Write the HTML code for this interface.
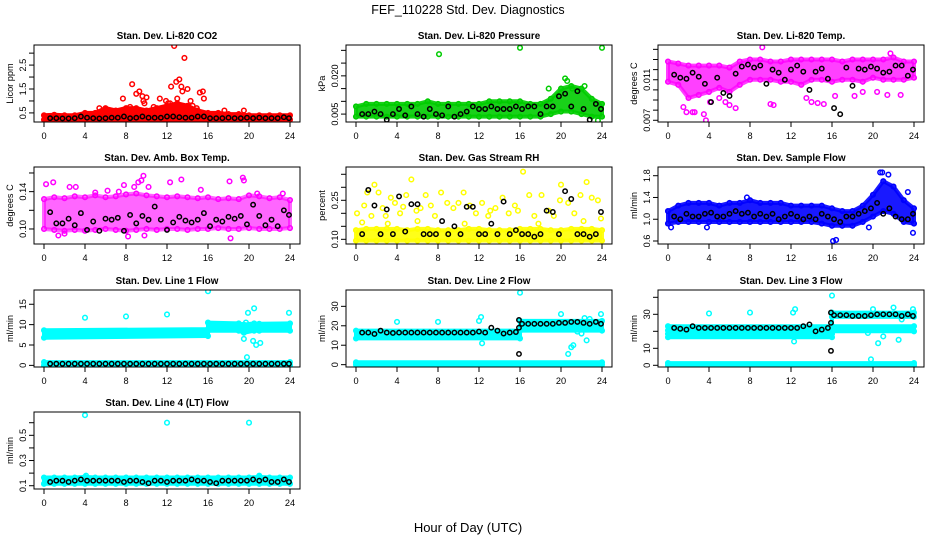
<!DOCTYPE html>
<html><head><meta charset="utf-8"><style>
html,body{margin:0;padding:0;background:#fff;}
svg{display:block;font-family:"Liberation Sans",sans-serif;}
</style></head><body>
<svg id="chart" width="936" height="540" viewBox="0 0 936 540" xmlns="http://www.w3.org/2000/svg">
<rect width="936" height="540" fill="#fff"/>
<text x="468" y="14" text-anchor="middle" font-size="12.5">FEF_110228  Std. Dev. Diagnostics</text>
<text x="468" y="532" text-anchor="middle" font-size="13">Hour of Day (UTC)</text>
</svg>
<script>
const xTicks = [0,4,8,12,16,20,24];
const blackHours = [0.6,1.2,1.8,2.4,3.0,3.6,4.2,4.8,5.4,6.0,6.6,7.2,7.8,8.4,9.0,9.6,10.2,10.8,11.4,12.0,12.6,13.2,13.8,14.4,15.0,15.6,16.2,16.8,17.4,18.0,18.6,19.2,19.8,20.4,21.0,21.6,22.2,22.8,23.4,23.9];
const hourly = [0,1,2,3,4,5,6,7,8,9,10,11,12,13,14,15,16,17,18,19,20,21,22,23,24];

// Panel 1 CO2
const co2Lo = [0.22,0.22,0.22,0.22,0.22,0.22,0.22,0.22,0.22,0.22,0.22,0.22,0.22,0.22,0.22,0.22,0.22,0.22,0.22,0.22,0.22,0.22,0.22,0.22,0.22];
const co2Hi = [0.4,0.42,0.4,0.4,0.5,0.5,0.7,0.6,0.7,0.7,0.6,0.7,0.8,0.9,0.8,0.6,0.5,0.5,0.45,0.45,0.4,0.4,0.4,0.4,0.4];
const co2OutX = [7.7,8.6,9.0,9.3,9.6,9.8,10.0,11.3,11.9,12.4,12.7,12.9,13.2,13.4,13.5,13.7,14.0,14.3,15.2,15.5,15.6,17.6,19.5,5.4,6.1,8.1,8.4,9.7,10.7,11.6,12.1,14.5,14.9,13.0,12.3];
const co2OutY = [1.1,1.7,1.3,1.4,1.2,0.9,1.15,1.1,1.0,1.6,3.3,1.8,1.9,1.6,1.4,2.8,1.5,1.0,1.35,1.4,1.1,0.6,0.6,0.7,0.65,0.65,0.75,1.0,0.75,0.7,0.9,0.8,0.7,1.1,0.9];
const co2Black = [0.28,0.28,0.27,0.27,0.28,0.35,0.3,0.28,0.27,0.28,0.3,0.3,0.35,0.28,0.3,0.35,0.3,0.3,0.3,0.35,0.35,0.32,0.3,0.3,0.35,0.35,0.28,0.28,0.28,0.3,0.28,0.28,0.3,0.28,0.3,0.28,0.28,0.28,0.32,0.28];

// Panel 2 Pressure
const prsLo = [0.004,0.004,0.004,0.004,0.004,0.004,0.004,0.004,0.004,0.004,0.004,0.004,0.004,0.004,0.004,0.004,0.004,0.004,0.004,0.005,0.006,0.006,0.005,0.004,0.004];
const prsHi = [0.008,0.009,0.009,0.009,0.009,0.009,0.009,0.01,0.009,0.009,0.009,0.009,0.009,0.01,0.01,0.01,0.01,0.009,0.009,0.011,0.015,0.016,0.015,0.011,0.009];
const prsOutX = [8.1,16,24,18.8,20.4,20.6,22.3,21.1,23.6];
const prsOutY = [0.0285,0.031,0.031,0.015,0.019,0.018,0.016,0.015,0.0025];
const prsBlack = [0.005,0.005,0.006,0.005,0.0028,0.005,0.007,0.0045,0.008,0.005,0.004,0.007,0.005,0.0045,0.008,0.004,0.005,0.006,0.008,0.007,0.007,0.008,0.007,0.007,0.007,0.008,0.007,0.008,0.008,0.005,0.008,0.008,0.012,0.013,0.008,0.014,0.007,0.0028,0.009,0.007];

// Panel 3 Li-820 Temp
const tmpLo = [0.0108,0.0105,0.0092,0.0095,0.0098,0.0102,0.0098,0.0105,0.011,0.011,0.011,0.0108,0.0108,0.0105,0.011,0.011,0.0108,0.011,0.011,0.0108,0.0112,0.011,0.011,0.011,0.0112];
const tmpHi = [0.0128,0.0126,0.0124,0.0124,0.0124,0.0124,0.0122,0.0128,0.013,0.013,0.0128,0.0128,0.013,0.013,0.013,0.013,0.013,0.0128,0.013,0.013,0.013,0.013,0.0132,0.0128,0.0128];
const tmpOutX = [1.5,1.8,2.4,2.6,3.7,3.5,4.1,5.0,5.6,6.0,6.6,9.2,10.0,10.3,13.5,14.0,14.6,15.2,16.3,18.2,19.0,20.4,21.4,22.7,21.7];
const tmpOutY = [0.0083,0.0078,0.0078,0.0078,0.0070,0.0076,0.0088,0.0092,0.0088,0.0085,0.0082,0.0142,0.0086,0.0085,0.0092,0.0088,0.0087,0.0086,0.0094,0.0094,0.0098,0.0098,0.0095,0.0095,0.0136];
const tmpBlack = [0.0115,0.0112,0.0111,0.0117,0.0113,0.0106,0.0088,0.0112,0.0097,0.0094,0.0116,0.0123,0.0125,0.0122,0.0124,0.0106,0.0120,0.0117,0.0110,0.0120,0.0124,0.0118,0.0100,0.0118,0.0121,0.0111,0.0082,0.0076,0.0122,0.0104,0.0121,0.0120,0.0123,0.0121,0.0117,0.0118,0.0124,0.0124,0.0114,0.0120];

// Panel 4 Amb Box Temp
const ambLo = [0.100,0.099,0.098,0.099,0.098,0.099,0.100,0.099,0.098,0.099,0.100,0.099,0.100,0.100,0.099,0.100,0.100,0.101,0.100,0.100,0.101,0.100,0.100,0.100,0.101];
const ambHi = [0.132,0.134,0.133,0.135,0.134,0.136,0.134,0.135,0.137,0.138,0.136,0.135,0.134,0.135,0.134,0.133,0.134,0.132,0.133,0.132,0.136,0.135,0.133,0.134,0.131];
const ambOutX = [0.2,0.9,2.5,3.1,5,6.2,7.3,7.8,8.8,9.2,9.7,9.5,10.2,12.3,13.4,15.3,18.1,18.2,19.4,19.5,1.4,8.2,9.8,2.0,23.3,20.8];
const ambOutY = [0.148,0.150,0.145,0.145,0.139,0.141,0.140,0.147,0.145,0.150,0.157,0.152,0.145,0.150,0.153,0.142,0.151,0.090,0.155,0.152,0.093,0.092,0.093,0.095,0.138,0.138];
const ambBlack = [0.118,0.106,0.106,0.111,0.104,0.117,0.099,0.108,0.098,0.111,0.110,0.112,0.098,0.115,0.106,0.114,0.110,0.124,0.110,0.099,0.107,0.113,0.109,0.107,0.110,0.117,0.103,0.110,0.108,0.113,0.111,0.114,0.105,0.126,0.114,0.104,0.110,0.103,0.120,0.115];

// Panel 5 Gas Stream RH
const rhLo = [0.095,0.095,0.095,0.095,0.095,0.095,0.095,0.095,0.095,0.095,0.095,0.095,0.095,0.095,0.095,0.095,0.095,0.095,0.095,0.095,0.095,0.095,0.095,0.095,0.095];
const rhHi = [0.135,0.14,0.14,0.14,0.14,0.135,0.14,0.14,0.135,0.135,0.135,0.14,0.14,0.135,0.135,0.135,0.14,0.14,0.14,0.135,0.135,0.14,0.14,0.14,0.135];
const rhOutX = [0.1,0.6,0.8,1.1,1.5,2.2,2.6,2.9,3.4,3.8,4.3,4.6,4.9,5.4,5.9,6.3,6.8,7.3,7.7,8.3,8.9,9.5,10.0,10.5,11.1,11.7,12.3,12.9,13.6,14.3,14.9,15.5,16.3,16.9,17.4,18.1,18.8,19.3,20.0,20.7,21.3,21.9,22.5,23.0,23.6,23.9,1.8,13.1,3.1,6.0,10.6,17.8,22.2,15.8,19.9];
const rhOutY = [0.2,0.165,0.23,0.28,0.19,0.28,0.22,0.19,0.26,0.24,0.2,0.225,0.27,0.33,0.21,0.22,0.27,0.23,0.19,0.28,0.24,0.22,0.24,0.28,0.23,0.2,0.24,0.19,0.22,0.26,0.2,0.23,0.36,0.27,0.19,0.27,0.21,0.19,0.31,0.24,0.2,0.27,0.32,0.26,0.25,0.18,0.31,0.21,0.16,0.17,0.16,0.16,0.17,0.21,0.25];
const rhBlack = [0.12,0.29,0.23,0.12,0.215,0.12,0.265,0.13,0.235,0.235,0.12,0.12,0.12,0.17,0.12,0.15,0.12,0.225,0.225,0.12,0.12,0.16,0.12,0.245,0.12,0.135,0.12,0.12,0.11,0.12,0.21,0.205,0.12,0.285,0.255,0.12,0.12,0.11,0.12,0.205];

// Panel 6 Sample Flow
const sfLo = [0.92,0.95,0.95,0.95,0.95,0.95,0.95,0.95,0.95,0.95,0.95,0.95,0.95,0.95,0.95,0.92,0.88,0.88,0.88,0.95,1.05,1.15,1.1,0.95,0.92];
const sfHi = [1.15,1.25,1.3,1.3,1.3,1.25,1.3,1.3,1.35,1.3,1.3,1.3,1.25,1.25,1.25,1.25,1.2,1.15,1.15,1.25,1.45,1.7,1.6,1.35,1.2];
const sfOutX = [20.7,20.9,21.5,16.1,16.4,3.8,23.9,23.4,19.6,0.3,7.7];
const sfOutY = [1.86,1.86,1.82,0.6,0.62,0.85,0.75,1.5,0.85,0.85,1.4];
const sfBlack = [1.05,1.0,1.1,1.05,1.05,1.1,1.12,1.05,1.05,1.1,1.15,1.1,1.12,1.05,1.1,1.05,1.1,1.0,1.05,1.1,1.05,1.0,1.05,1.0,1.1,1.05,1.0,0.95,1.05,1.05,1.1,1.15,1.2,1.3,1.1,1.2,1.05,1.0,1.0,1.1];

// Panel 7 Line 1 Flow
const l1Hours = [0,16,16,19,19.5,20.5,21,24];
const l1Lo = [6.8,7.2,8.5,8.5,8.0,8.5,8.5,8.5];
const l1Hi = [8.6,8.9,10.5,10.3,10.0,10.3,10.2,10.3];
const zeroHours = [0,24];
const l1ZeroLo = [0,0];
const l1ZeroHi = [0.8,0.8];
const l1OutX = [4,8,12,16,19.7,19.9,20.5,19.5,20.4,20.7,21.1,19.8,23.9];
const l1OutY = [11.7,12,12.5,18.2,10.5,12.9,14,6.5,6,5,5.5,2,12.9];
const l1Black = [0.4,0.4,0.4,0.4,0.4,0.4,0.4,0.4,0.4,0.4,0.4,0.4,0.4,0.4,0.4,0.4,0.4,0.4,0.4,0.4,0.4,0.4,0.4,0.4,0.4,0.4,0.4,0.4,0.4,0.4,0.4,0.4,0.4,0.4,0.4,0.4,0.4,0.4,0.4,0.4];

// Panel 8 Line 2 Flow
const l2Hours = [0,16,16,24];
const l2Lo = [13.5,13.5,17.5,17.5];
const l2Hi = [17.5,17.5,22.5,22.5];
const l2ZeroLo = [0,0];
const l2ZeroHi = [1.2,1.2];
const l2OutX = [4,8,12,12.2,12.3,16,20,20.7,21,21.2,22,22.3,22.5,23.9,21.6,22.8];
const l2OutY = [22,22,22.5,24.5,11,37,26,5.5,9,10,16,24,12.5,26,17,23.5];
const l2Black = [16.5,16.5,15.8,17.5,16.5,16.3,16.5,16.5,16.5,16.5,16.5,16.5,16.5,16.5,16.5,16.5,16.5,16.5,16.5,17,16.5,19,17.5,16,16.5,16.8,21,21,21,21,21,21,21.5,21.5,22,22,21.5,21,22,21];
const l2ExtraX = [15.9,15.9,15.9];
const l2ExtraY = [5.5,23,19];

// Panel 9 Line 3 Flow
const l3Hours = [0,16,16,24];
const l3LoA = [16.5,16.5,20,20];
const l3HiA = [18.5,18.5,23,23];
const l3LoB = [20.5,20.5,28.5,28.5];
const l3HiB = [23,23,31,31];
const l3ZeroLo = [0,0];
const l3ZeroHi = [1.3,1.3];
const l3OutX = [4,8,12.2,12.4,12.3,16,20,19.8,20.5,22,22.5,23.9,19.5,21,22.8];
const l3OutY = [30.5,31,31,33,14,41,33,3.5,13,34,15,33,19,17,27];
const l3Black = [22,21.5,21,23,22,22,22,22,22,22,22,22,22,22,22,22,22,22,22,22,22,23,24,20,21,22,29.5,29.5,29.5,29,29,29,29.5,30,30,30,30,29,30,29];
const l3ExtraX = [15.9,15.9,15.9];
const l3ExtraY = [8.5,31,25];

// Panel 10 Line 4 Flow
const l4Lo = [0.115,0.115,0.115,0.115,0.115,0.115,0.115,0.115,0.115,0.115,0.115,0.115,0.115,0.115,0.115,0.115,0.115,0.115,0.115,0.115,0.115,0.115,0.115,0.115,0.115];
const l4Hi = [0.165,0.165,0.165,0.165,0.17,0.165,0.165,0.165,0.165,0.165,0.165,0.165,0.165,0.165,0.165,0.165,0.165,0.165,0.165,0.165,0.165,0.17,0.165,0.165,0.165];
const l4OutX = [4,12,20,4.1,21];
const l4OutY = [0.66,0.6,0.6,0.18,0.18];
const l4Black = [0.13,0.14,0.14,0.13,0.14,0.15,0.14,0.14,0.14,0.14,0.14,0.14,0.13,0.14,0.14,0.13,0.12,0.14,0.14,0.13,0.14,0.14,0.14,0.15,0.14,0.14,0.13,0.12,0.14,0.14,0.14,0.14,0.14,0.15,0.14,0.15,0.13,0.13,0.15,0.13];

const NS = "http://www.w3.org/2000/svg";
const svg = document.getElementById('chart');
function mk(tag, attrs, parent){
  const e = document.createElementNS(NS, tag);
  for (const k in attrs) e.setAttribute(k, attrs[k]);
  (parent||svg).appendChild(e);
  return e;
}
const colLeft = [34, 346, 658];
const rowTop = [45, 167, 290, 412];
const BW = 266, BH = 77;

const panels = [
 {key:'co2', title:'Stan. Dev. Li-820 CO2', ylab:'Licor ppm', col:0,row:0, ymin:0.12,ymax:3.34, color:'#ff0000', op:1,
  ticks:[0.5,1,1.5,2,2.5,3], tlab:['0.5','','1.5','','2.5',''],
  bands:[[hourly,co2Lo,co2Hi]], outX:co2OutX,outY:co2OutY, black:co2Black},
 {key:'pressure', title:'Stan. Dev. Li-820 Pressure', ylab:'kPa', col:1,row:0, ymin:0.0019,ymax:0.0321, color:'#00cc00', op:0.9,
  ticks:[0.005,0.01,0.015,0.02,0.025,0.03], tlab:['0.005','','','0.020','',''],
  bands:[[hourly,prsLo,prsHi]], outX:prsOutX,outY:prsOutY, black:prsBlack},
 {key:'temp', title:'Stan. Dev. Li-820 Temp.', ylab:'degrees C', col:2,row:0, ymin:0.00683,ymax:0.01443, color:'#ff00ff', op:0.75,
  ticks:[0.007,0.008,0.009,0.010,0.011,0.012,0.013,0.014], tlab:['0.007','','','','0.011','','',''],
  bands:[[hourly,tmpLo,tmpHi]], outX:tmpOutX,outY:tmpOutY, black:tmpBlack},
 {key:'amb-box-temp', title:'Stan. Dev. Amb. Box Temp.', ylab:'degrees C', col:0,row:1, ymin:0.0839,ymax:0.1664, color:'#ff00ff', op:0.6,
  ticks:[0.10,0.12,0.14,0.16], tlab:['0.10','','0.14',''],
  bands:[[hourly,ambLo,ambHi]], outX:ambOutX,outY:ambOutY, black:ambBlack},
 {key:'gas-rh', title:'Stan. Dev. Gas Stream RH', ylab:'percent', col:1,row:1, ymin:0.082,ymax:0.378, color:'#ffff00', op:0.9,
  ticks:[0.10,0.15,0.20,0.25,0.30,0.35], tlab:['0.10','','','0.25','',''],
  bands:[[hourly,rhLo,rhHi]], outX:rhOutX,outY:rhOutY, black:rhBlack},
 {key:'sample-flow', title:'Stan. Dev. Sample Flow', ylab:'ml/min', col:2,row:1, ymin:0.545,ymax:1.96, color:'#0000ff', op:0.9,
  ticks:[0.6,1.0,1.4,1.8], tlab:['0.6','1.0','1.4','1.8'],
  bands:[[hourly,sfLo,sfHi]], outX:sfOutX,outY:sfOutY, black:sfBlack},
 {key:'line1', title:'Stan. Dev. Line 1 Flow', ylab:'ml/min', col:0,row:2, ymin:-0.4,ymax:18.5, color:'#00ffff', op:1,
  ticks:[0,5,10,15], tlab:['0','5','10','15'],
  bands:[[l1Hours,l1Lo,l1Hi],[zeroHours,l1ZeroLo,l1ZeroHi]], outX:l1OutX,outY:l1OutY, black:l1Black},
 {key:'line2', title:'Stan. Dev. Line 2 Flow', ylab:'ml/min', col:1,row:2, ymin:-1.2,ymax:38.4, color:'#00ffff', op:1,
  ticks:[0,10,20,30], tlab:['0','10','20','30'],
  bands:[[l2Hours,l2Lo,l2Hi],[zeroHours,l2ZeroLo,l2ZeroHi]], outX:l2OutX,outY:l2OutY, black:l2Black, exX:l2ExtraX, exY:l2ExtraY},
 {key:'line3', title:'Stan. Dev. Line 3 Flow', ylab:'ml/min', col:2,row:2, ymin:-1,ymax:44.3, color:'#00ffff', op:1,
  ticks:[0,10,20,30,40], tlab:['0','10','','30',''],
  bands:[[l3Hours,l3LoA,l3HiA],[l3Hours,l3LoB,l3HiB],[zeroHours,l3ZeroLo,l3ZeroHi]], outX:l3OutX,outY:l3OutY, black:l3Black, exX:l3ExtraX, exY:l3ExtraY},
 {key:'line4', title:'Stan. Dev. Line 4 (LT) Flow', ylab:'ml/min', col:0,row:3, ymin:0.074,ymax:0.685, color:'#00ffff', op:1,
  ticks:[0.1,0.2,0.3,0.4,0.5,0.6], tlab:['0.1','','0.3','','0.5',''],
  bands:[[hourly,l4Lo,l4Hi]], outX:l4OutX,outY:l4OutY, black:l4Black}
];

panels.forEach(p => {
  const L = colLeft[p.col], T = rowTop[p.row];
  const g = mk('g', {});
  
  
  const xs = h => L + 10 + h / 24 * (BW - 20);
  const ys = v => T + BH - (v - p.ymin) / (p.ymax - p.ymin) * BH;
  const clipId = 'clip-' + p.key;
  const cp = mk('clipPath', {id: clipId}, g);
  mk('rect', {x:L, y:T, width:BW, height:BH}, cp);
  const data = mk('g', {'clip-path':'url(#' + clipId + ')'}, g);

  p.bands.forEach((b, bi) => {
    const [hs, lo, hi] = b;
    let d = '';
    hs.forEach((h, i) => { d += (i ? 'L' : 'M') + xs(h).toFixed(1) + ',' + ys(hi[i]).toFixed(1); });
    for (let i = hs.length - 1; i >= 0; i--) d += 'L' + xs(hs[i]).toFixed(1) + ',' + ys(lo[i]).toFixed(1);
    d += 'Z';
    const band = mk('path', {d:d, fill:p.color, 'fill-opacity':p.op, stroke:p.color, 'stroke-opacity':p.op, 'stroke-width':4, 'stroke-linejoin':'round'}, data);
    
    
    hs.forEach((h, i) => {
      [hi[i], lo[i]].forEach(v => {
        const c = mk('circle', {cx:xs(h), cy:ys(v), r:2.3, fill:'none', stroke:p.color, 'stroke-width':1.5}, data);
        
        
      });
    });
  });
  p.outX.forEach((h, i) => {
    const c = mk('circle', {cx:xs(h), cy:ys(p.outY[i]), r:2.3, fill:'none', stroke:p.color, 'stroke-width':1.5}, data);
    
    
  });
  p.black.forEach((v, i) => {
    const c = mk('circle', {cx:xs(blackHours[i]), cy:ys(v), r:2.2, fill:'none', stroke:'#000', 'stroke-width':1.5}, data);
    
    
  });
  if (p.exX) p.exX.forEach((h, i) => {
    const c = mk('circle', {cx:xs(h), cy:ys(p.exY[i]), r:2.2, fill:'none', stroke:'#000', 'stroke-width':1.5}, data);
    
    
  });

  const box = mk('rect', {x:L, y:T, width:BW, height:BH, fill:'none', stroke:'#000', 'stroke-width':1}, g);
  
  
  const t = mk('text', {x:L + BW/2, y:T - 6, 'text-anchor':'middle', 'font-size':9.8, 'font-weight':'bold'}, g);
  t.textContent = p.title;
  
  
  const xa = mk('g', {}, g);
  
  
  mk('line', {x1:xs(0), x2:xs(24), y1:T+BH, y2:T+BH, stroke:'#000'}, xa);
  xTicks.forEach(h => {
    mk('line', {x1:xs(h), x2:xs(h), y1:T+BH, y2:T+BH+5, stroke:'#000'}, xa);
    const tl = mk('text', {x:xs(h), y:T+BH+17, 'text-anchor':'middle', 'font-size':9.2}, xa);
    tl.textContent = String(h);
    
    
  });
  const ya = mk('g', {}, g);
  
  
  mk('line', {x1:L, x2:L, y1:ys(p.ticks[0]), y2:ys(p.ticks[p.ticks.length-1]), stroke:'#000'}, ya);
  p.ticks.forEach((v, i) => {
    const y = ys(v);
    mk('line', {x1:L-5, x2:L, y1:y, y2:y, stroke:'#000'}, ya);
    if (p.tlab[i]) {
      const tl = mk('text', {x:L-8, y:y, 'text-anchor':'middle', 'font-size':9.2, transform:'rotate(-90 ' + (L-8) + ' ' + y + ')'}, ya);
      tl.textContent = p.tlab[i];
      
      
    }
  });
  const yl = mk('text', {x:L-21, y:T+BH/2, 'text-anchor':'middle', 'font-size':9.2, transform:'rotate(-90 ' + (L-21) + ' ' + (T+BH/2) + ')'}, g);
  yl.textContent = p.ylab;
  
  
});
</script>
</body></html>
